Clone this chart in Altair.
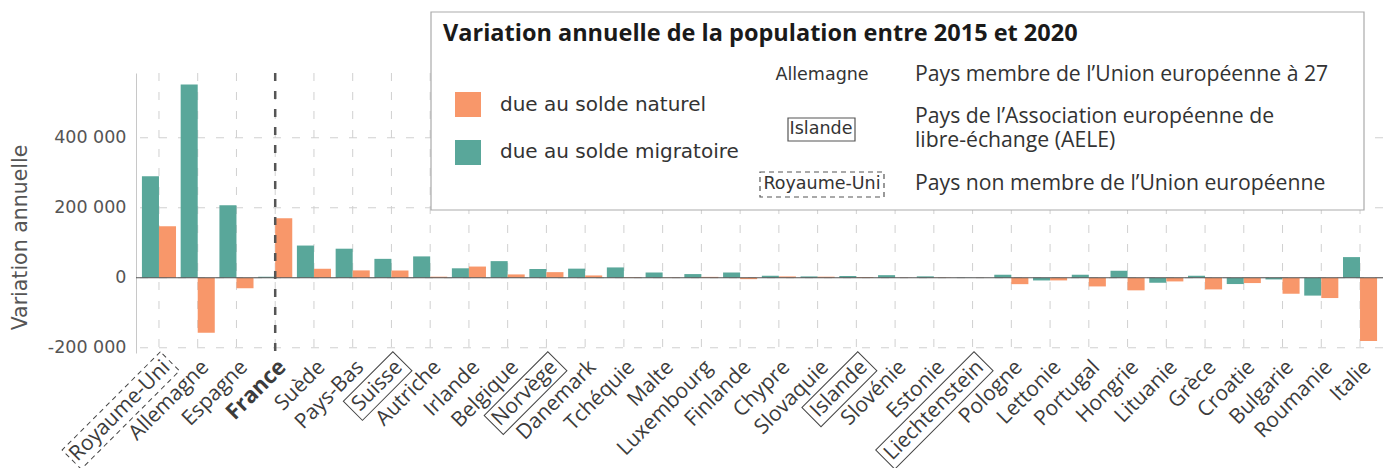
import altair as alt
import pandas as pd

# ---------------- data ----------------
countries = ["Royaume-Uni", "Allemagne", "Espagne", "France", "Suède", "Pays-Bas", "Suisse",
             "Autriche", "Irlande", "Belgique", "Norvège", "Danemark", "Tchéquie", "Malte",
             "Luxembourg", "Finlande", "Chypre", "Slovaquie", "Islande", "Slovénie", "Estonie",
             "Liechtenstein", "Pologne", "Lettonie", "Portugal", "Hongrie", "Lituanie", "Grèce",
             "Croatie", "Bulgarie", "Roumanie", "Italie"]
solde_migratoire = [290000, 552000, 207000, 3000, 92000, 83000, 54000, 61000, 27000, 47500,
                    25000, 26000, 29500, 15000, 10500, 15000, 5700, 3800, 5000, 7400, 4000,
                    400, 8600, -7700, 8600, 20000, -14300, 5700, -18000, -4800, -51000, 59000]
solde_naturel = [147000, -157000, -30000, 170000, 25700, 21000, 21000, 3000, 32000, 9500,
                 16000, 6600, 1500, 1000, 2500, -4000, 3800, 3000, 2000, -500, -800,
                 100, -18300, -7600, -24800, -36000, -10500, -33300, -15200, -45700, -58000, -181000]
series = ["due au solde migratoire", "due au solde naturel"]
colors = ["#59a79a", "#f8976a"]
y_ticks = [-200000, 0, 200000, 400000]
aele = ["Suisse", "Norvège", "Islande", "Liechtenstein"]
non_ue = ["Royaume-Uni"]
legend_title = "Variation annuelle de la population entre 2015 et 2020"
legend_types = ["Allemagne", "Islande", "Royaume-Uni"]
legend_type_texts = [["Pays membre de l\u2019Union européenne à 27"],
                     ["Pays de l\u2019Association européenne de", "libre-échange (AELE)"],
                     ["Pays non membre de l\u2019Union européenne"]]
y_title = "Variation annuelle"

rows = []
for i, c in enumerate(countries):
    rows.append({"pays": c, "serie": series[0], "valeur": solde_migratoire[i]})
    rows.append({"pays": c, "serie": series[1], "valeur": solde_naturel[i]})
df = pd.DataFrame(rows)
dfc = pd.DataFrame({"pays": countries})
dft = pd.DataFrame({"v": y_ticks})
one = pd.DataFrame({"a": [0]})

W, H = 1247, 280
LABEL_PAD = 3
FS = 21

X = alt.X("pays:N", sort=countries, title=None,
          scale=alt.Scale(domain=countries, paddingInner=0.12, paddingOuter=0.153),
          axis=alt.Axis(labelAngle=-45, labelFont="Open Sans",
                        labelFontSize=alt.expr("datum.value == 'France' ? 22 : 21"),
                        labelFontWeight=alt.expr("datum.value == 'France' ? 'bold' : 'normal'"),
                        labelColor="#3c3c3c", domain=False, ticks=False, tickSize=0,
                        grid=False, labelPadding=LABEL_PAD, labelOverlap=False, labelLimit=0))
Y = alt.Y("v:Q", title=y_title,
          scale=alt.Scale(domain=[-215000, 585000], nice=False, zero=False),
          axis=alt.Axis(values=y_ticks, grid=False, ticks=False, tickSize=0,
                        labelExpr="replace(replace(format(datum.value, ','), regexp(',', 'g'), ' '), '\u2212', '-')",
                        labelFont="DejaVu Sans", labelFontSize=17.5, labelColor="#555555",
                        labelPadding=10, domain=True, domainColor="#c8c8c8", domainWidth=1,
                        titleFont="DejaVu Sans", titleFontSize=20.5, titleFontWeight="normal",
                        titleColor="#555555", titleAngle=270, titleX=-116, titleY=164,
                        titleAlign="center", titleBaseline="middle"))

vgrid = alt.Chart(dfc).mark_rule(color="#d0d0d0", strokeDash=[8, 11], strokeWidth=1).encode(x=X)
hgrid = alt.Chart(dft).mark_rule(color="#d0d0d0", strokeDash=[8, 11], strokeWidth=1).encode(y=Y)

bars = alt.Chart(df).mark_bar().encode(
    x=X,
    xOffset=alt.XOffset("serie:N", sort=series,
                        scale=alt.Scale(domain=series, paddingInner=0, paddingOuter=0)),
    y=alt.Y("valeur:Q", scale=alt.Scale(domain=[-215000, 585000], nice=False, zero=False)),
    color=alt.Color("serie:N", scale=alt.Scale(domain=series, range=colors), legend=None),
)

zero = alt.Chart(pd.DataFrame({"v": [0]})).mark_rule(color="#555555", strokeWidth=1.2).encode(y=Y)
france = alt.Chart(pd.DataFrame({"pays": ["France"]})).mark_rule(
    color="#555555", strokeDash=[8, 10], strokeWidth=2.5).encode(x=X)

layers = [vgrid, hgrid, bars, zero, france]

# boxes around the rotated axis labels (local frame: anchor = label end)
box_w = {"Suisse": 62, "Norvège": 82, "Islande": 71, "Liechtenstein": 131, "Royaume-Uni": 131}
for name in aele + non_ue:
    w = box_w[name]
    path = f"M 4 -2 L {-w - 4} -2 L {-w - 4} {FS + 4} L 4 {FS + 4} Z"
    kw = dict(shape=path, size=4, angle=315, filled=False, stroke="#444444",
              strokeWidth=1, opacity=1)
    if name in non_ue:
        kw["strokeDash"] = [5, 4]
    layers.append(
        alt.Chart(dfc).transform_filter(alt.datum.pays == name).mark_point(**kw)
        .encode(x=X, y=alt.value(H + LABEL_PAD))
    )

# custom legend box
def rect(x1, x2, y1, y2, **kw):
    return alt.Chart(one).mark_rect(**kw).encode(
        x=alt.value(x1), x2=alt.value(x2), y=alt.value(y1), y2=alt.value(y2))

def txt(s, x, y, **kw):
    return alt.Chart(one).mark_text(**kw).encode(
        x=alt.value(x), y=alt.value(y), text=alt.value(s))

layers.append(rect(295, 1228, -61, 137, fill="white", stroke="#ababab", strokeWidth=1.2))
layers.append(txt(legend_title, 307, -39, align="left", baseline="middle", font="Open Sans",
                  fontSize=23.5, fontWeight="bold", color="#1a1a1a"))
# swatches: naturel first, migratoire second
layers.append(rect(319, 345, 19, 44, fill=colors[1]))
layers.append(rect(319, 345, 67, 92, fill=colors[0]))
layers.append(txt(series[1], 364, 32, align="left", baseline="middle", font="DejaVu Sans",
                  fontSize=20, color="#333333"))
layers.append(txt(series[0], 364, 79, align="left", baseline="middle", font="DejaVu Sans",
                  fontSize=20, color="#333333"))
# middle column
layers.append(txt(legend_types[0], 686, 2, align="center", baseline="middle", font="DejaVu Sans",
                  fontSize=17.5, color="#333333"))
layers.append(rect(652, 719, 45, 68, fill="white", fillOpacity=0, stroke="#555555", strokeWidth=1.2))
layers.append(txt(legend_types[1], 685, 56, align="center", baseline="middle", font="DejaVu Sans",
                  fontSize=17.5, color="#333333"))
layers.append(rect(624, 748, 99, 124, fill="white", fillOpacity=0, stroke="#555555",
                   strokeWidth=1.2, strokeDash=[5, 4]))
layers.append(txt(legend_types[2], 686, 111, align="center", baseline="middle", font="DejaVu Sans",
                  fontSize=17.5, color="#333333"))
# right column
for s, yy in zip(legend_type_texts, [2, 44, 111]):
    layers.append(txt(s, 779, yy, align="left", baseline="middle", font="Open Sans",
                      fontSize=21.2, lineHeight=24, color="#333333"))

chart = alt.layer(*layers).properties(
    width=W, height=H,
    autosize=alt.AutoSizeParams(type="none"),
    padding={"left": 128, "top": 65, "right": 0, "bottom": 115},
).configure_view(stroke=None).configure_scale(offsetBandPaddingInner=0, offsetBandPaddingOuter=0)

chart.save("out.html", embed_options={"renderer": "svg", "actions": False})
